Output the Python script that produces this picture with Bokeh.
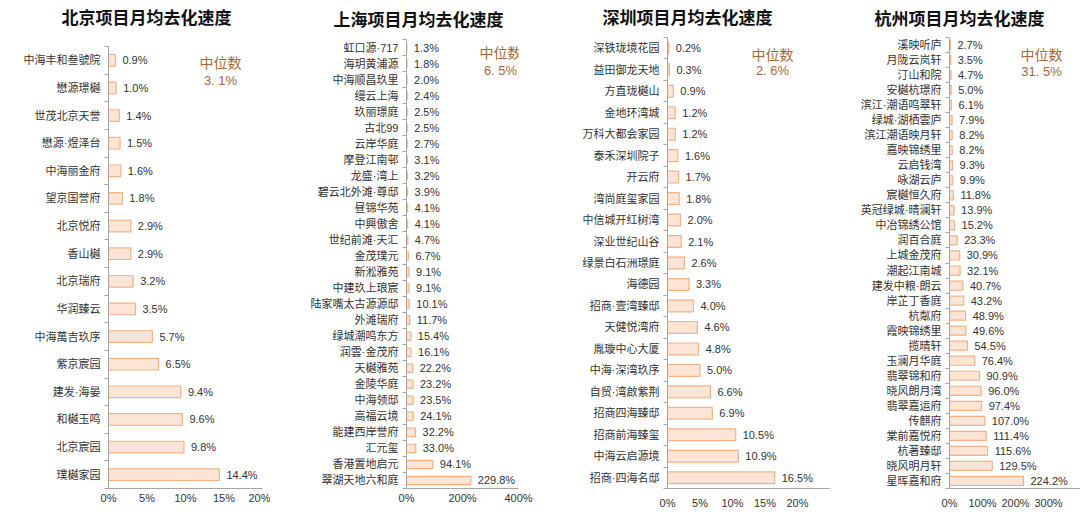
from bokeh.plotting import figure
from bokeh.models import Range1d, FixedTicker, Label, ColumnDataSource, PrintfTickFormatter
from bokeh.layouts import row, column
from bokeh.embed import file_html
from bokeh.resources import INLINE
from bokeh.core.properties import value

# ---------------- data ----------------
bj_title = "北京项目月均去化速度"
bj_names = ["中海丰和叁號院", "懋源璟樾", "世茂北京天誉", "懋源·煜泽台", "中海丽金府", "望京国誉府",
            "北京悦府", "香山樾", "北京瑞府", "华润臻云", "中海萬吉玖序", "紫京宸园",
            "建发·海晏", "和樾玉鸣", "北京宸园", "璞樾家园"]
bj_vals = [0.9, 1.0, 1.4, 1.5, 1.6, 1.8, 2.9, 2.9, 3.2, 3.5, 5.7, 6.5, 9.4, 9.6, 9.8, 14.4]
bj_median = "3. 1%"
bj_xticks = [0, 5, 10, 15, 20]

sh_title = "上海项目月均去化速度"
sh_names = ["虹口源·717", "海玥黄浦源", "中海顺昌玖里", "缦云上海", "玖丽璟庭", "古北99", "云岸华庭",
            "摩登江南邨", "龙盛·湾上", "碧云北外滩·尊邸", "昼锦华苑", "中興傲舍", "世纪前滩·天汇",
            "金茂璞元", "新淞雅苑", "中建玖上琅宸", "陆家嘴太古源源邸", "外滩瑞府", "绿城潮鸣东方",
            "润雲·金茂府", "天樾雅苑", "金陵华庭", "中海领邸", "高福云境", "能建西岸誉府", "汇元玺",
            "香港置地启元", "翠湖天地六和庭"]
sh_vals = [1.3, 1.8, 2.0, 2.4, 2.5, 2.5, 2.7, 3.1, 3.2, 3.9, 4.1, 4.1, 4.7, 6.7, 9.1, 9.1, 10.1,
           11.7, 15.4, 16.1, 22.2, 23.2, 23.5, 24.1, 32.2, 33.0, 94.1, 229.8]
sh_median = "6. 5%"
sh_xticks = [0, 200, 400]

sz_title = "深圳项目月均去化速度"
sz_names = ["深铁珑境花园", "益田御龙天地", "方直珑樾山", "金地环湾城", "万科大都会家园", "泰禾深圳院子",
            "开云府", "湾尚庭玺家园", "中信城开红树湾", "深业世纪山谷", "绿景白石洲璟庭", "海德园",
            "招商·壹湾臻邸", "天健悦湾府", "胤璇中心大厦", "中海·深湾玖序", "自贸·湾啟紫荆",
            "招商四海臻邸", "招商前海臻玺", "中海云启源境", "招商·四海名邸"]
sz_vals = [0.2, 0.3, 0.9, 1.2, 1.2, 1.6, 1.7, 1.8, 2.0, 2.1, 2.6, 3.3, 4.0, 4.6, 4.8, 5.0, 6.6,
           6.9, 10.5, 10.9, 16.5]
sz_median = "2. 6%"
sz_xticks = [0, 5, 10, 15, 20]

hz_title = "杭州项目月均去化速度"
hz_names = ["溪映听庐", "月陇云岚轩", "汀山和院", "安樾杭璟府", "滨江·潮语鸣翠轩", "绿城·湖栖雲庐",
            "滨江潮语映月轩", "嘉映锦绣里", "云启钱湾", "咏湖云庐", "宸樾恒久府", "英冠绿城·晴澜轩",
            "中冶锦绣公馆", "润百合庭", "上城金茂府", "潮起江南城", "建发中粮·朗云", "岸芷丁香庭",
            "杭粼府", "霞映锦绣里", "揽晴轩", "玉澜月华庭", "翡翠锦和府", "晓风朗月湾", "翡翠嘉运府",
            "传麒府", "棠前嘉悦府", "杭著臻邸", "晓风明月轩", "星晖嘉和府"]
hz_vals = [2.7, 3.5, 4.7, 5.0, 6.1, 7.9, 8.2, 8.2, 9.3, 9.9, 11.8, 13.9, 15.2, 23.3, 30.9, 32.1,
           40.7, 43.2, 48.9, 49.6, 54.5, 76.4, 90.9, 96.0, 97.4, 107.0, 111.4, 115.6, 129.5, 224.2]
hz_median = "31. 5%"
hz_xticks = [0, 100, 200, 300]

median_word = "中位数"

# ---------------- style / layout ----------------
BAR_FILL = "#FCE4D6"
BAR_LINE = "#F4B183"
AXIS = "#A6A6A6"
TXT = "#333333"
MED = "#A5663A"
LATIN = "Liberation Sans, Noto Sans CJK SC"
CJK = "Noto Sans CJK SC"
TITLE_H = 30
PANEL_H = 483
TOP_B = 7       # frame top  -> page y 37
BOT_B = 25      # frame bottom -> page y 488
FRAME_H = PANEL_H - TOP_B - BOT_B


def panel(names, vals, median, xticks, width, geo):
    n = len(names)
    ys = list(range(n - 1, -1, -1))
    # categories occupy the lower part of the frame, starting geo["cat_top"] px below frame top
    pxu = (FRAME_H - geo["cat_top"]) / n
    yend = -0.5 + FRAME_H / pxu
    src = ColumnDataSource(dict(y=ys, v=vals, lbl=["%.1f%%" % v for v in vals]))
    p = figure(width=width, height=PANEL_H, output_backend="svg", toolbar_location=None,
               x_range=Range1d(0, geo["xend"]), y_range=Range1d(-0.5, yend),
               min_border_left=geo["left"], min_border_right=geo["right"],
               min_border_top=TOP_B, min_border_bottom=BOT_B)
    p.outline_line_color = None
    p.xgrid.visible = False
    p.ygrid.visible = False
    p.background_fill_color = "white"
    p.border_fill_color = "white"

    p.hbar(y="y", left=0, right="v", height=geo["bar_h"], source=src,
           fill_color=BAR_FILL, line_color=BAR_LINE, line_width=1.2)
    p.text(x="v", y="y", text="lbl", source=src, x_offset=7, text_baseline="middle",
           text_align="left", text_font_size="11px", text_color=TXT,
           text_font=value("Liberation Sans"))

    ya = p.yaxis[0]
    ya.bounds = (-0.5, n - 0.5)
    ya.ticker = FixedTicker(ticks=ys, minor_ticks=[i - 0.5 for i in range(n + 1)])
    ya.major_label_overrides = {y: nm for y, nm in zip(ys, names)}
    ya.axis_line_color = AXIS
    ya.major_tick_line_color = None
    ya.major_tick_out = 0
    ya.major_tick_in = 0
    ya.minor_tick_line_color = AXIS
    ya.minor_tick_out = 4
    ya.minor_tick_in = 0
    ya.major_label_standoff = 4
    ya.major_label_text_font = LATIN
    ya.major_label_text_font_size = "11px"
    ya.major_label_text_color = TXT

    xa = p.xaxis[0]
    xa.ticker = FixedTicker(ticks=xticks)
    xa.formatter = PrintfTickFormatter(format="%d%%")
    xa.axis_line_color = AXIS
    xa.major_tick_line_color = None
    xa.major_tick_out = 0
    xa.major_tick_in = 0
    xa.minor_tick_line_color = None
    xa.minor_tick_out = 0
    xa.minor_tick_in = 0
    xa.axis_label_standoff = 0
    xa.major_label_standoff = geo["xstand"]
    xa.major_label_text_font = "Liberation Sans"
    xa.major_label_text_font_size = "11px"
    xa.major_label_text_color = TXT

    # median note, placed in pixels below the frame top
    mx = geo["median_x"]
    for txt, dy, font, size in [(median_word, geo["median_dy"][0], CJK, "14px"),
                                (median, geo["median_dy"][1], "Liberation Sans", "13px")]:
        p.add_layout(Label(x=mx, y=FRAME_H - dy, x_units="screen", y_units="screen", text=txt,
                           text_align="center", text_baseline="middle", text_font=font,
                           text_font_size=size, text_color=MED))
    return p


widths = [270, 270, 290, 250]

# title strip
titles = [bj_title, sh_title, sz_title, hz_title]
tp = figure(width=sum(widths), height=TITLE_H, output_backend="svg", toolbar_location=None,
            x_range=Range1d(0, 1), y_range=Range1d(0, 1), x_axis_location=None,
            y_axis_location=None, min_border=0)
tp.outline_line_color = None
tp.xgrid.visible = False
tp.ygrid.visible = False
title_pos = [(146, 14), (418, 12), (687, 14), (959, 13)]
for t, (tx, ty) in zip(titles, title_pos):
    tp.add_layout(Label(x=tx, y=ty, x_units="screen", y_units="screen", text=t,
                        text_align="center", text_baseline="middle", text_font=CJK,
                        text_font_size="17px", text_font_style="bold", text_color="#111111"))

# frame top is at page y 37; median_dy are pixel offsets below it
p1 = panel(bj_names, bj_vals, bj_median, bj_xticks, widths[0],
           dict(left=108, right=8, xend=20, bar_h=0.42, cat_top=9, xstand=3,
                median_x=112, median_dy=(24, 43)))
p2 = panel(sh_names, sh_vals, sh_median, sh_xticks, widths[1],
           dict(left=136, right=22, xend=400, bar_h=0.52, cat_top=2, xstand=3,
                median_x=94, median_dy=(14, 33)))
p3 = panel(sz_names, sz_vals, sz_median, sz_xticks, widths[2],
           dict(left=127, right=0, xend=25.08, bar_h=0.55, cat_top=0, xstand=8,
                median_x=105, median_dy=(16, 33)))
p4 = panel(hz_names, hz_vals, hz_median, hz_xticks, widths[3],
           dict(left=119, right=0, xend=397, bar_h=0.6, cat_top=0, xstand=8,
                median_x=92, median_dy=(16, 34)))

layout = column(tp, row(p1, p2, p3, p4))
open("out.html", "w").write(file_html(layout, INLINE))
